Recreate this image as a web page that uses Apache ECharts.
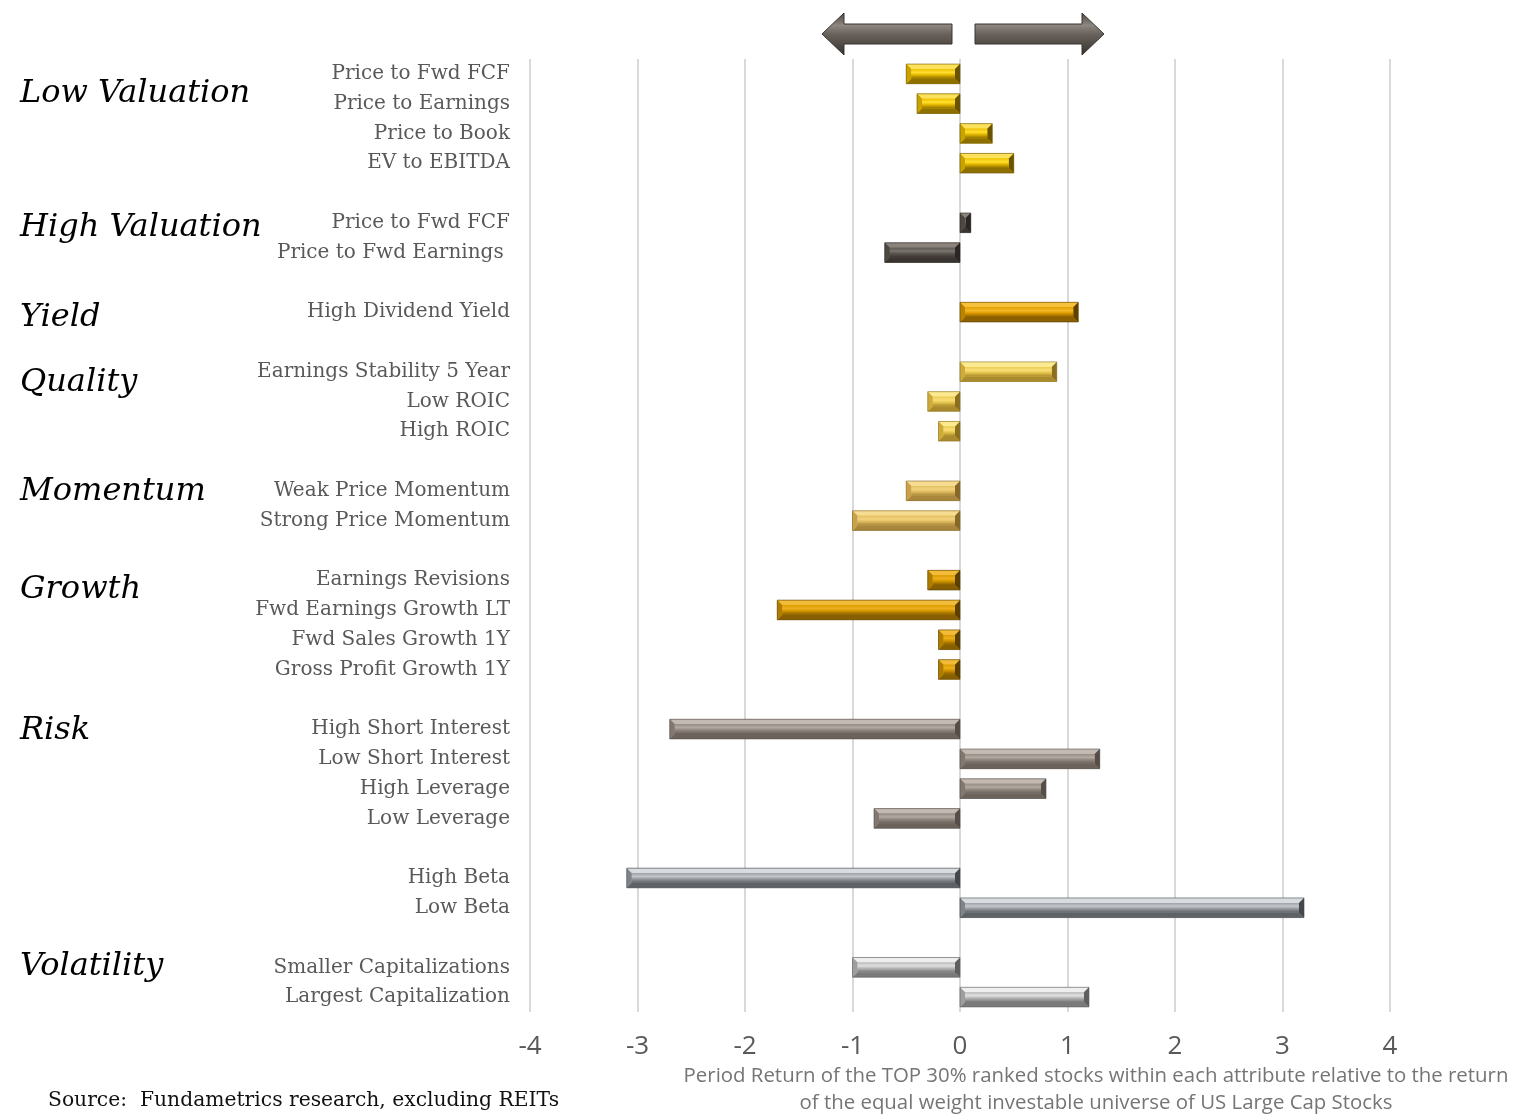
<!DOCTYPE html>
<html><head><meta charset="utf-8">
<script src="https://cdn.jsdelivr.net/npm/echarts@6/dist/echarts.min.js"></script>
<style>html,body{margin:0;padding:0;background:#fff}#c{width:1516px;height:1114px}</style>
</head><body><div id="c"></div>
<script>
const categories = [
  'Price to Fwd FCF','Price to Earnings','Price to Book','EV to EBITDA','',
  'Price to Fwd FCF\u200b','Price to Fwd Earnings ','',
  'High Dividend Yield','',
  'Earnings Stability 5 Year','Low ROIC','High ROIC','',
  'Weak Price Momentum','Strong Price Momentum','',
  'Earnings Revisions','Fwd Earnings Growth LT','Fwd Sales Growth 1Y','Gross Profit Growth 1Y','',
  'High Short Interest','Low Short Interest','High Leverage','Low Leverage','',
  'High Beta','Low Beta','',
  'Smaller Capitalizations','Largest Capitalization'
];
const values = [
  -0.5,-0.4,0.3,0.5,null,
  0.1,-0.7,null,
  1.1,null,
  0.9,-0.3,-0.2,null,
  -0.5,-1.0,null,
  -0.3,-1.7,-0.2,-0.2,null,
  -2.7,1.3,0.8,-0.8,null,
  -3.1,3.2,null,
  -1.0,1.2
];
const rowGroup = [
  'lowval','lowval','lowval','lowval','',
  'highval','highval','',
  'yield','',
  'quality','quality','quality','',
  'momentum','momentum','',
  'growth','growth','growth','growth','',
  'risk','risk','risk','risk','',
  'beta','beta','',
  'vol','vol'
];
const groupTitles = ['Low Valuation','High Valuation','Yield','Quality','Momentum','Growth','Risk','Volatility'];
const xTicks = [-4,-3,-2,-1,0,1,2,3,4];
const sourceText = 'Source:  Fundametrics research, excluding REITs';
const axisTitle = ['Period Return of the TOP 30% ranked stocks within each attribute relative to the return','of the equal weight investable universe of US Large Cap Stocks'];

// styles
const palette = {
  lowval:  {light:'#FBE25A', mid:'#EDC000', hi:'#FFE033', dark:'#8E7000', side:'#C9A200', edge:'#6A5300'},
  highval: {light:'#8A837C', mid:'#5F5953', hi:'#7C756F', dark:'#3A3531', side:'#4E4843', edge:'#2A2623'},
  yield:   {light:'#F6C23C', mid:'#E3A100', hi:'#F2B82A', dark:'#8C6000', side:'#B98300', edge:'#5E4100'},
  quality: {light:'#FBEA90', mid:'#EDCB52', hi:'#F8DE78', dark:'#A98A2D', side:'#CDAA3A', edge:'#8A6F20'},
  momentum:{light:'#F6DC90', mid:'#E4C062', hi:'#F1D27E', dark:'#A8863C', side:'#C9A14A', edge:'#86692A'},
  growth:  {light:'#F2BC3A', mid:'#DA9C00', hi:'#EDB020', dark:'#875E00', side:'#B07C00', edge:'#5A3F00'},
  risk:    {light:'#C2BAB3', mid:'#968C84', hi:'#B2AAA3', dark:'#6B625B', side:'#82786F', edge:'#554D47'},
  beta:    {light:'#D8DCE0', mid:'#9EA2A7', hi:'#C4C8CC', dark:'#5E6267', side:'#80848A', edge:'#44484C'},
  vol:     {light:'#EEEEEE', mid:'#BDBDBD', hi:'#E0E0E0', dark:'#7A7A7A', side:'#9E9E9E', edge:'#5E5E5E'}
};

const barData = [];
values.forEach((v,i)=>{ if (v !== null) barData.push([v, i]); });

function renderItem(params, api) {
  const v = api.value(0), idx = api.value(1);
  const p0 = api.coord([0, idx]), p1 = api.coord([v, idx]);
  const h = api.size([0, 1])[1] * 0.66;
  const x0 = Math.min(p0[0], p1[0]), x1 = Math.max(p0[0], p1[0]);
  const y0 = p0[1] - h / 2, y1 = p0[1] + h / 2;
  const w = x1 - x0;
  const b = Math.min(5, w / 2, h / 2);
  const c = palette[rowGroup[idx]];
  return {
    type: 'group',
    children: [
      {type:'rect', shape:{x:x0, y:y0, width:w, height:h}, style:{fill:c.mid}},
      {type:'polygon', shape:{points:[[x0,y0],[x1,y0],[x1-b,y0+b],[x0+b,y0+b]]}, style:{fill:c.light}},
      {type:'polygon', shape:{points:[[x0,y1],[x1,y1],[x1-b,y1-b],[x0+b,y1-b]]}, style:{fill:c.dark}},
      {type:'polygon', shape:{points:[[x0,y0],[x0+b,y0+b],[x0+b,y1-b],[x0,y1]]}, style:{fill:c.side}},
      {type:'polygon', shape:{points:[[x1,y0],[x1-b,y0+b],[x1-b,y1-b],[x1,y1]]}, style:{fill:c.edge}},
      {type:'rect', shape:{x:x0+b, y:y0+b, width:Math.max(0,w-2*b), height:Math.max(0,h-2*b)},
        style:{fill:{type:'linear',x:0,y:0,x2:0,y2:1,colorStops:[
          {offset:0,color:c.mid},{offset:0.35,color:c.hi},{offset:0.55,color:c.mid},{offset:1,color:c.dark}]}}},
      {type:'rect', shape:{x:x0, y:y0, width:w, height:h}, style:{fill:null, stroke:c.edge, lineWidth:1, opacity:0.6}}
    ]
  };
}

const chart = echarts.init(document.getElementById('c'), null, {renderer:'canvas'});

const serif = '"DejaVu Serif", Georgia, serif';
const sans = '"Open Sans", sans-serif';

const titlePos = [94, 228, 318, 383, 492, 590, 731, 967];
const graphics = groupTitles.map((t,i)=>({
  type:'text', x: 20, y: titlePos[i],
  style:{text:t, font:'italic 32px ' + serif, fill:'#000', verticalAlign:'middle'}
}));
graphics.push({type:'text', x:48, y:1101, style:{text:sourceText, font:'20.3px ' + serif, fill:'#111', verticalAlign:'middle'}});
graphics.push({type:'text', x:1096, y:1076, style:{text:axisTitle[0], font:'20.4px ' + sans, fill:'#757575', align:'center', verticalAlign:'middle'}});
graphics.push({type:'text', x:1096, y:1103, style:{text:axisTitle[1], font:'20.4px ' + sans, fill:'#757575', align:'center', verticalAlign:'middle'}});

const arrowFill = {type:'linear',x:0,y:0,x2:0,y2:1,colorStops:[
  {offset:0,color:'#4A443F'},{offset:0.3,color:'#8E8781'},{offset:0.5,color:'#6A635D'},{offset:1,color:'#36312D'}]};
graphics.push({type:'polygon', shape:{points:[[822,34],[844,13],[844,24],[952,24],[952,44],[844,44],[844,55]]}, style:{fill:arrowFill, stroke:'#3A3531', lineWidth:1}});
graphics.push({type:'polygon', shape:{points:[[1104,34],[1082,13],[1082,24],[975,24],[975,44],[1082,44],[1082,55]]}, style:{fill:arrowFill, stroke:'#3A3531', lineWidth:1}});

chart.setOption({
  animation:false,
  backgroundColor:'#fff',
  grid:{left:530, right:126, top:59, bottom:102, containLabel:false},
  xAxis:{
    type:'value', min:xTicks[0], max:xTicks[xTicks.length-1], interval:1,
    axisLine:{show:false}, axisTick:{show:false},
    splitLine:{show:true, lineStyle:{color:'#D9D9D9', width:2}},
    axisLabel:{color:'#595959', fontSize:26, fontFamily:sans, margin:22}
  },
  yAxis:{
    type:'category', data:categories, inverse:true,
    axisLine:{show:false}, axisTick:{show:false}, splitLine:{show:false},
    axisLabel:{color:'#595959', fontSize:20, fontFamily:serif, margin:20, interval:0, padding:[3,0,0,0]}
  },
  series:[{
    type:'custom', renderItem:renderItem, data:barData,
    encode:{x:0, y:1}, clip:false
  }],
  graphic:graphics
});
</script>
</body></html>
